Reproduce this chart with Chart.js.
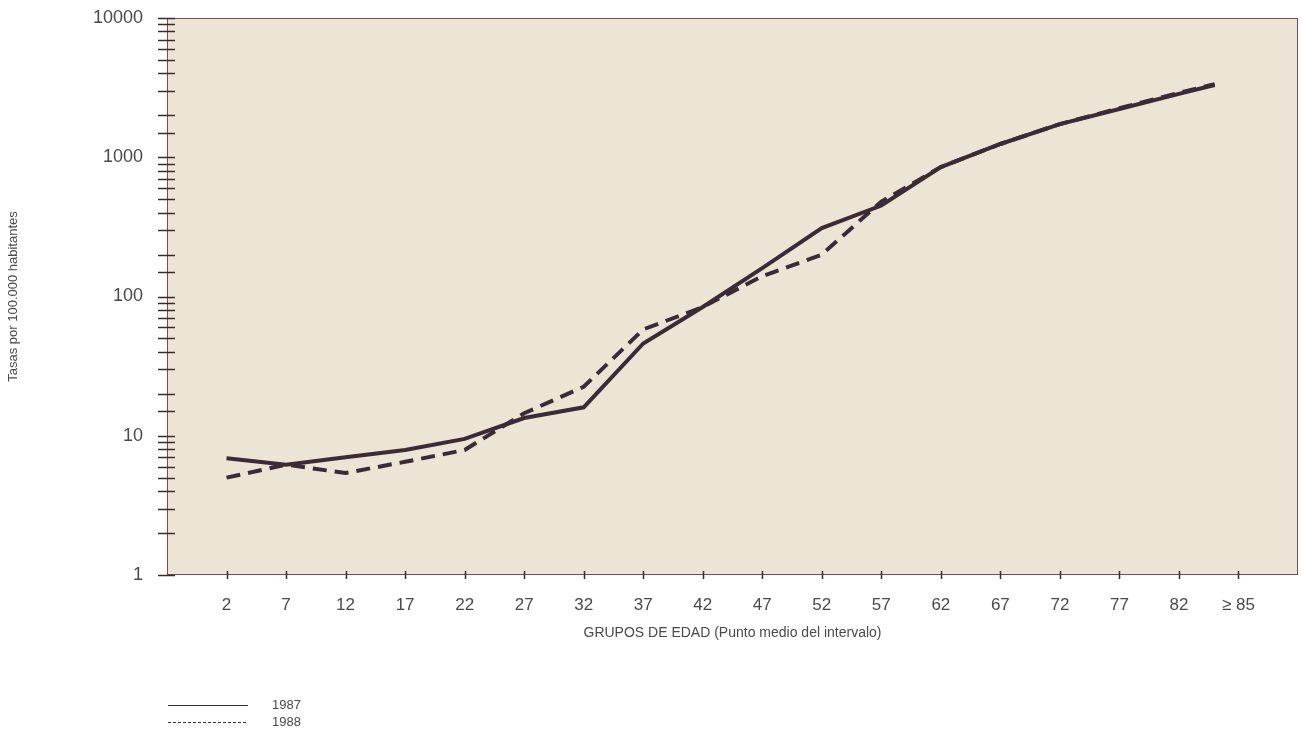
<!DOCTYPE html>
<html>
<head>
<meta charset="utf-8">
<script src="https://cdn.jsdelivr.net/npm/chart.js@4/dist/chart.umd.min.js"></script>
<style>
  html, body { margin: 0; padding: 0; background: #fff; }
  #wrap { width: 1302px; height: 731px; }
</style>
</head>
<body>
<div id="wrap"><canvas id="tasasChart"></canvas></div>
<script>
// Grupos de edad (punto medio del intervalo)
var edades = [2, 7, 12, 17, 22, 27, 32, 37, 42, 47, 52, 57, 62, 67, 72, 77, 82, 85];
var tasas1987 = [6.9, 6.2, 7.0, 7.9, 9.5, 13.4, 16, 46, 84, 160, 310, 450, 850, 1245, 1730, 2220, 2850, 3300];
var tasas1988 = [5.0, 6.2, 5.4, 6.5, 7.9, 14.5, 22.5, 58, 84, 140, 200, 480, 850, 1245, 1730, 2250, 2900, 3350];

// Marcas del eje X
var marcasEdad = [2, 7, 12, 17, 22, 27, 32, 37, 42, 47, 52, 57, 62, 67, 72, 77, 82, 87];
var etiquetasEdad = ["2", "7", "12", "17", "22", "27", "32", "37", "42", "47", "52", "57", "62", "67", "72", "77", "82", "\u2265 85"];

var lineColor = "#3b2b36";
var axisColor = "#7d4a4f";
var textColor = "#4a4a4a";
var fontFamily = "'Liberation Sans', Arial, sans-serif";

function puntos(valores) {
    return edades.map(function (e, i) { return { x: e, y: valores[i] }; });
}

// fondo, marco, marcas de ejes y leyenda
var decoPlugin = {
    id: "deco",
    beforeDraw: function (chart) {
        var ctx = chart.ctx, a = chart.chartArea;
        ctx.save();
        ctx.fillStyle = "#ece5d5";
        ctx.fillRect(a.left, a.top, a.right - a.left, a.bottom - a.top);
        ctx.restore();
    },
    afterDraw: function (chart) {
        var ctx = chart.ctx, a = chart.chartArea;
        var ys = chart.scales.y, xs = chart.scales.x;
        ctx.save();
        ctx.strokeStyle = axisColor;
        ctx.lineWidth = 1;
        ctx.strokeRect(a.left + 0.5, a.top + 0.5, a.right - a.left - 1, a.bottom - a.top - 1);

        ctx.strokeStyle = "#3a2a2a";
        ctx.lineWidth = 1.5;
        ys.ticks.forEach(function (t) {
            var py = Math.round(ys.getPixelForValue(t.value)) + 0.5;
            ctx.beginPath();
            ctx.moveTo(a.left - 9, py);
            ctx.lineTo(a.left + 8, py);
            ctx.stroke();
        });
        xs.ticks.forEach(function (t) {
            var px = Math.round(xs.getPixelForValue(t.value)) + 0.5;
            ctx.beginPath();
            ctx.moveTo(px, a.bottom - 4);
            ctx.lineTo(px, a.bottom + 4);
            ctx.stroke();
        });

        // leyenda
        ctx.strokeStyle = "#333";
        ctx.lineWidth = 1;
        ctx.beginPath();
        ctx.moveTo(168, 705.5);
        ctx.lineTo(248, 705.5);
        ctx.stroke();
        ctx.setLineDash([3, 2]);
        ctx.beginPath();
        ctx.moveTo(168, 722.5);
        ctx.lineTo(248, 722.5);
        ctx.stroke();
        ctx.setLineDash([]);
        ctx.fillStyle = textColor;
        ctx.font = "13px " + fontFamily;
        ctx.textBaseline = "middle";
        ctx.fillText("1987", 272, 705);
        ctx.fillText("1988", 272, 722);
        ctx.restore();
    }
};

var tasasContext = document.getElementById("tasasChart").getContext("2d");
var tasasChart = new Chart(tasasContext, {
    type: "line",
    data: {
        datasets: [{
            label: "1987",
            data: puntos(tasas1987),
            borderColor: lineColor,
            borderWidth: 4,
            pointRadius: 0,
            tension: 0,
            fill: false
        }, {
            label: "1988",
            data: puntos(tasas1988),
            borderColor: lineColor,
            borderWidth: 4,
            borderDash: [14, 8],
            pointRadius: 0,
            tension: 0,
            fill: false
        }]
    },
    options: {
        responsive: true,
        maintainAspectRatio: false,
        animation: false,
        layout: { padding: { left: 0, right: 4, top: 18, bottom: 86 } },
        plugins: {
            legend: { display: false },
            tooltip: { enabled: false }
        },
        scales: {
            x: {
                type: "linear",
                min: -3,
                max: 92,
                afterFit: function (scale) { scale.height = 70; },
                afterBuildTicks: function (scale) {
                    scale.ticks = marcasEdad.map(function (v) { return { value: v }; });
                },
                ticks: {
                    color: textColor,
                    font: { family: fontFamily, size: 17 },
                    padding: 12,
                    maxRotation: 0,
                    autoSkip: false,
                    callback: function (v) {
                        var i = marcasEdad.indexOf(v);
                        return i >= 0 ? etiquetasEdad[i] : "";
                    }
                },
                grid: { display: false },
                border: { display: false },
                title: {
                    display: true,
                    text: "GRUPOS DE EDAD (Punto medio del intervalo)",
                    color: textColor,
                    font: { family: fontFamily, size: 14 },
                    padding: { top: 0, bottom: 3 }
                }
            },
            y: {
                type: "logarithmic",
                min: 1,
                max: 10000,
                afterFit: function (scale) { scale.width = 167; },
                ticks: {
                    color: textColor,
                    font: { family: fontFamily, size: 18 },
                    padding: 0,
                    autoSkip: false,
                    callback: function (v) {
                        var l = Math.log10(v);
                        return Math.abs(l - Math.round(l)) < 1e-9 ? String(v) : "";
                    }
                },
                grid: { display: false, drawTicks: true, tickLength: 24 },
                border: { display: false },
                title: {
                    display: true,
                    text: "Tasas por 100.000 habitantes",
                    color: textColor,
                    font: { family: fontFamily, size: 13 },
                    padding: { top: 6, bottom: 0 }
                }
            }
        }
    },
    plugins: [decoPlugin]
});
</script>
</body>
</html>
